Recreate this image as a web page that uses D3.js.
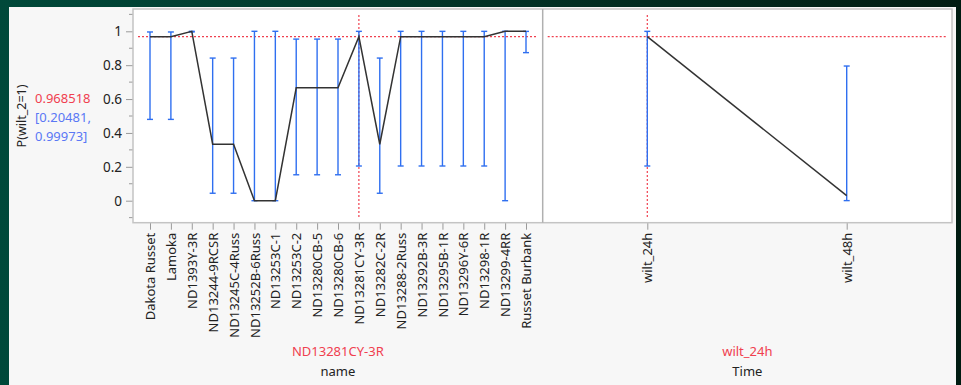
<!DOCTYPE html>
<html>
<head>
<meta charset="utf-8">
<script src="https://cdn.jsdelivr.net/npm/d3@7"></script>
<style>
  html, body { margin: 0; padding: 0; background: #003226; }
  svg { display: block; }
  text { font-family: "Noto Sans", "Open Sans", sans-serif; }
</style>
</head>
<body>
<svg id="chart" width="961" height="385"></svg>
<script>
// Clone names along the x axis of the left panel
const names = [
  "Dakota Russet", "Lamoka", "ND1393Y-3R", "ND13244-9RCSR", "ND13245C-4Russ",
  "ND13252B-6Russ", "ND13253C-1", "ND13253C-2", "ND13280CB-5", "ND13280CB-6",
  "ND13281CY-3R", "ND13282C-2R", "ND13288-2Russ", "ND13292B-3R", "ND13295B-1R",
  "ND13296Y-6R", "ND13298-1R", "ND13299-4RR", "Russet Burbank"
];
// Predicted probability P(wilt_2=1) and its confidence limits per clone
const nameProb  = [0.968518, 0.968518, 0.9999, 0.3333, 0.3333, 0.0, 0.0, 0.6667, 0.6667, 0.6667,
                   0.968518, 0.3333, 0.968518, 0.968518, 0.968518, 0.968518, 0.968518, 0.9999, 0.9999];
const nameLower = [0.48, 0.48, 0.996, 0.044, 0.044, 0.0, 0.0, 0.153, 0.153, 0.153,
                   0.20481, 0.044, 0.20481, 0.20481, 0.20481, 0.20481, 0.20481, 0.0, 0.874];
const nameUpper = [0.996, 0.996, 1.0, 0.842, 0.842, 1.0, 1.0, 0.954, 0.954, 0.954,
                   0.99973, 0.842, 0.99973, 0.99973, 0.99973, 0.99973, 0.99973, 1.0, 0.9995];

// Time levels for the right panel
const times     = ["wilt_24h", "wilt_48h"];
const timeProb  = [0.968518, 0.03];
const timeLower = [0.20481, 0.0005];
const timeUpper = [0.99973, 0.795];

// Current crosshair settings
const currentName = "ND13281CY-3R";
const currentTime = "wilt_24h";
const currentProb = 0.968518;
const currentCI   = [0.20481, 0.99973];

const yTicks = [0, 0.2, 0.4, 0.6, 0.8, 1];
const yMinor = [-0.1, 0.1, 0.3, 0.5, 0.7, 0.9, 1.1];

const svg = d3.select("#chart");
const W = 961, H = 385;

// Dark green window frame
const defs = svg.append("defs");
const grad = defs.append("linearGradient").attr("id", "frame").attr("x1", 0).attr("x2", 1).attr("y1", 0).attr("y2", 0);
grad.append("stop").attr("offset", "0%").attr("stop-color", "#00493a");
grad.append("stop").attr("offset", "100%").attr("stop-color", "#001c12");
svg.append("rect").attr("width", W).attr("height", H).attr("fill", "url(#frame)");

// Report panel
svg.append("rect").attr("x", 9).attr("y", 7).attr("width", 947).attr("height", H - 7).attr("fill", "#f7f7f7");

const plotTop = 9, plotBottom = 222.7, plotLeft = 133, plotMid = 542.7, plotRight = 952;
const RED = "#f0404f", BLUE = "#2f6ff0", GRID = "#9a9a9a";

const y = d3.scaleLinear().domain([0, 1]).range([200.7, 31.3]);
const xName = d3.scalePoint().domain(names).range([150, 526]);
const xTime = d3.scalePoint().domain(times).range([647.3, 846.7]);

// Plot background
svg.append("rect").attr("x", plotLeft).attr("y", plotTop)
  .attr("width", plotRight - plotLeft).attr("height", plotBottom - plotTop)
  .attr("fill", "#ffffff");

// Y axis with major and minor ticks
const yAxis = svg.append("g").attr("transform", `translate(${plotLeft},0)`);
yAxis.call(d3.axisLeft(y).tickValues(yTicks).tickSize(7).tickPadding(4).tickFormat(d3.format("~g")));
yAxis.select(".domain").remove();
yAxis.selectAll("line").attr("stroke", GRID);
yAxis.selectAll("text").attr("font-size", 13.5).attr("fill", "#222");
yAxis.selectAll(".minor").data(yMinor).enter().append("line")
  .attr("x1", -4).attr("x2", 0).attr("y1", d => y(d)).attr("y2", d => y(d)).attr("stroke", GRID);

// X axes with vertical category labels
function drawXAxis(scale, size) {
  const g = svg.append("g").attr("transform", `translate(0,${plotBottom})`);
  g.call(d3.axisBottom(scale).tickSize(7).tickPadding(3));
  g.select(".domain").remove();
  g.selectAll("line").attr("stroke", GRID);
  g.selectAll("text")
    .attr("font-size", size).attr("fill", "#222")
    .attr("transform", "rotate(-90)")
    .attr("text-anchor", "end")
    .attr("x", -10).attr("y", 0).attr("dy", "0.35em");
  return g;
}
drawXAxis(xName, 13);
drawXAxis(xTime, 13);

// Crosshair reference lines
function refLines(x0, x1, xc) {
  svg.append("line").attr("x1", x0 + 5).attr("x2", x1 - 6).attr("y1", y(currentProb)).attr("y2", y(currentProb))
    .attr("stroke", RED).attr("stroke-width", 1.2).attr("stroke-dasharray", "2,2");
  svg.append("line").attr("x1", xc).attr("x2", xc).attr("y1", plotTop + 6).attr("y2", plotBottom - 4)
    .attr("stroke", RED).attr("stroke-width", 1.2).attr("stroke-dasharray", "2,2");
}
refLines(plotLeft, plotMid, xName(currentName));
refLines(plotMid, plotRight, xTime(currentTime));

// Error bars and profile line for one panel
function profile(cats, scale, prob, lo, hi) {
  const g = svg.append("g");
  const rows = cats.map((c, i) => ({ c, p: prob[i], lo: lo[i], hi: hi[i] }));
  g.selectAll(".bar").data(rows).enter().append("line")
    .attr("x1", d => scale(d.c)).attr("x2", d => scale(d.c))
    .attr("y1", d => y(d.lo)).attr("y2", d => y(d.hi))
    .attr("stroke", BLUE).attr("stroke-width", 1.4);
  ["lo", "hi"].forEach(k => {
    g.selectAll(".cap-" + k).data(rows).enter().append("line")
      .attr("x1", d => scale(d.c) - 3).attr("x2", d => scale(d.c) + 3)
      .attr("y1", d => y(d[k])).attr("y2", d => y(d[k]))
      .attr("stroke", BLUE).attr("stroke-width", 1.4);
  });
  g.append("path").datum(rows)
    .attr("d", d3.line().x(d => scale(d.c)).y(d => y(d.p)))
    .attr("fill", "none").attr("stroke", "#333").attr("stroke-width", 1.5);
}
profile(names, xName, nameProb, nameLower, nameUpper);
profile(times, xTime, timeProb, timeLower, timeUpper);

// Frame borders and panel divider
svg.append("rect").attr("x", plotLeft).attr("y", plotTop)
  .attr("width", plotRight - plotLeft).attr("height", plotBottom - plotTop)
  .attr("fill", "none").attr("stroke", "#c4c4c4").attr("stroke-width", 1.5);
svg.append("line").attr("x1", plotMid).attr("x2", plotMid).attr("y1", plotTop).attr("y2", plotBottom)
  .attr("stroke", "#b0b0b0").attr("stroke-width", 1.5);

// Y axis title and current value readout
svg.append("text").attr("transform", `translate(26,116) rotate(-90)`)
  .attr("text-anchor", "middle").attr("font-size", 12.5).attr("fill", "#222").text("P(wilt_2=1)");
svg.append("text").attr("x", 35).attr("y", 103).attr("font-size", 13).attr("fill", RED)
  .text(d3.format(".6f")(currentProb));
svg.append("text").attr("x", 35).attr("y", 122).attr("font-size", 13).attr("fill", "#5a78f5")
  .text(`[${currentCI[0]},`);
svg.append("text").attr("x", 35).attr("y", 141).attr("font-size", 13).attr("fill", "#5a78f5")
  .text(`${currentCI[1]}]`);

// X axis titles with current levels
const cL = (plotLeft + plotMid) / 2, cR = (plotMid + plotRight) / 2;
[[cL, currentName, "name"], [cR, currentTime, "Time"]].forEach(([cx, cur, title]) => {
  svg.append("text").attr("x", cx).attr("y", 356).attr("text-anchor", "middle")
    .attr("font-size", 13).attr("fill", RED).text(cur);
  svg.append("text").attr("x", cx).attr("y", 376).attr("text-anchor", "middle")
    .attr("font-size", 13).attr("fill", "#222").text(title);
});
</script>
</body>
</html>
